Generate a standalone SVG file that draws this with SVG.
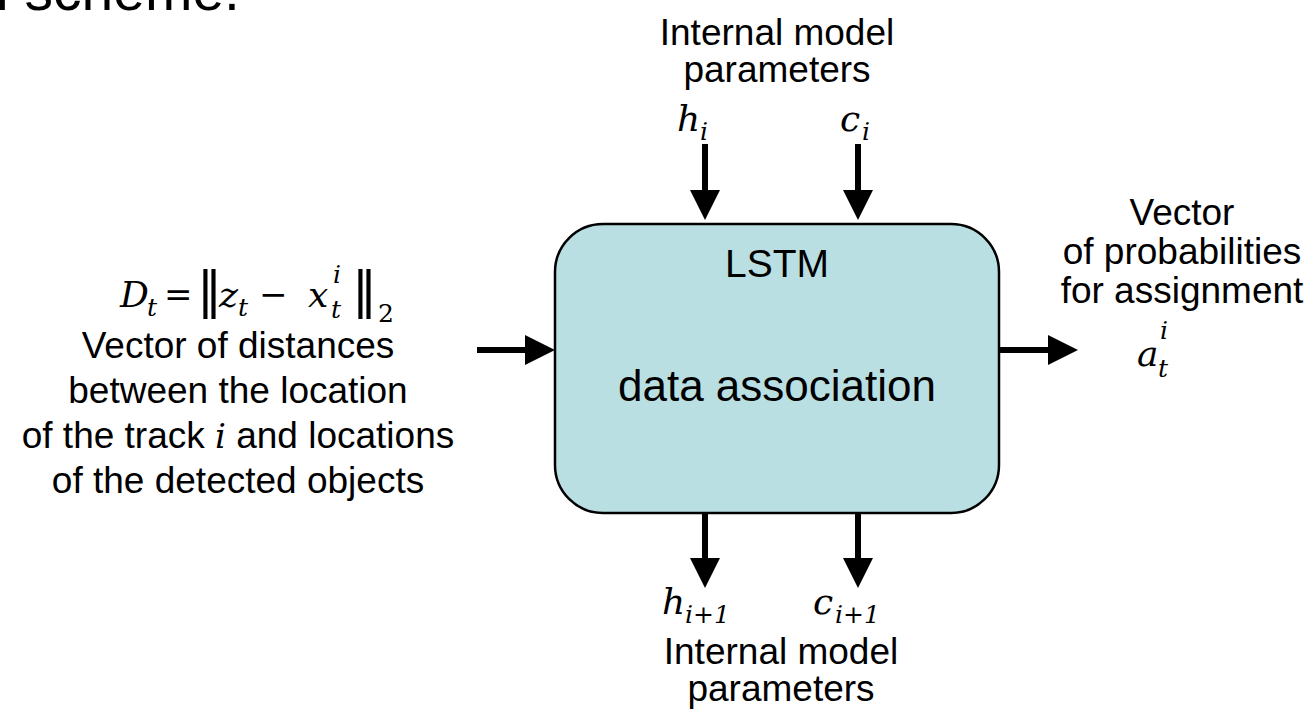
<svg xmlns="http://www.w3.org/2000/svg" width="1310" height="714" viewBox="0 0 1310 714">
<style>
.lbl{font-family:"Liberation Sans",Arial,sans-serif;font-size:37px;fill:#000;text-anchor:middle}
.box{font-family:"Liberation Sans",Arial,sans-serif;fill:#000;text-anchor:middle}
.m{font-family:"DejaVu Serif","Liberation Serif",serif;font-style:italic;font-size:36px;fill:#000}
.mr{font-family:"DejaVu Serif","Liberation Serif",serif;font-size:34px;fill:#000}
.s{font-size:25px}
.bar{font-family:"DejaVu Sans",sans-serif;font-size:50px;fill:#000}
.conn{stroke:#000;stroke-width:6;fill:none;marker-end:url(#ah)}
</style>
<defs>
<marker id="ah" markerUnits="userSpaceOnUse" markerWidth="32" markerHeight="32" refX="20" refY="15" orient="auto">
<path d="M0,0 L30,15 L0,30 Z" fill="#000"/>
</marker>
</defs>
<text x="-4" y="10" style="font-family:'Liberation Sans',Arial,sans-serif;font-size:57px">l scheme.</text>

<g id="lstm">
<rect x="555" y="224" width="444" height="289" rx="48" ry="48" fill="#B9DFE3" stroke="#000" stroke-width="2.5"/>
<text class="box" x="777" y="277" style="font-size:39px">LSTM</text>
<text class="box" x="777" y="401" style="font-size:44px">data association</text>
</g>

<g id="input-top">
<text class="lbl" x="777" y="45">Internal model</text>
<text class="lbl" x="777" y="82">parameters</text>
<text class="m" x="677" y="131">h</text><text class="m s" x="700" y="140">i</text>
<text class="m" x="840" y="131">c</text><text class="m s" x="862" y="140">i</text>
</g>

<g id="input-left">
<text class="m" x="120" y="307">D</text><text class="m s" x="147" y="316">t</text>
<text class="mr" x="164" y="306">=</text>
<text class="bar" x="197" y="307">‖</text>
<text class="m" x="219" y="307">z</text><text class="m s" x="238" y="316">t</text>
<text class="mr" x="259" y="306">−</text>
<text class="m" x="308" y="307">x</text><text class="m s" x="333" y="283">i</text><text class="m s" x="331" y="318">t</text>
<text class="bar" x="352" y="307">‖</text>
<text class="mr s" x="378" y="322">2</text>
<text class="lbl" x="238" y="358">Vector of distances</text>
<text class="lbl" x="238" y="403">between the location</text>
<text class="lbl" x="238" y="448">of the track <tspan class="m" style="font-size:34px">i</tspan> and locations</text>
<text class="lbl" x="238" y="493">of the detected objects</text>
</g>

<g id="output-right">
<text class="lbl" x="1182" y="225">Vector</text>
<text class="lbl" x="1182" y="264">of probabilities</text>
<text class="lbl" x="1182" y="303">for assignment</text>
<text class="m" x="1137" y="366">a</text><text class="m s" x="1160" y="339">i</text><text class="m s" x="1158" y="377">t</text>
</g>

<g id="output-bottom">
<text class="m" x="662" y="614">h</text><text class="m s" x="685" y="623">i+1</text>
<text class="m" x="813" y="614">c</text><text class="m s" x="835" y="623">i+1</text>
<text class="lbl" x="781" y="664">Internal model</text>
<text class="lbl" x="781" y="701">parameters</text>
</g>

<g id="connectors">
<line class="conn" x1="705" y1="144" x2="705" y2="210"/>
<line class="conn" x1="858" y1="144" x2="858" y2="210"/>
<line class="conn" x1="477" y1="350" x2="545" y2="350"/>
<line class="conn" x1="999" y1="350" x2="1068" y2="350"/>
<line class="conn" x1="705" y1="513" x2="705" y2="578"/>
<line class="conn" x1="858" y1="513" x2="858" y2="578"/>
</g>
</svg>
